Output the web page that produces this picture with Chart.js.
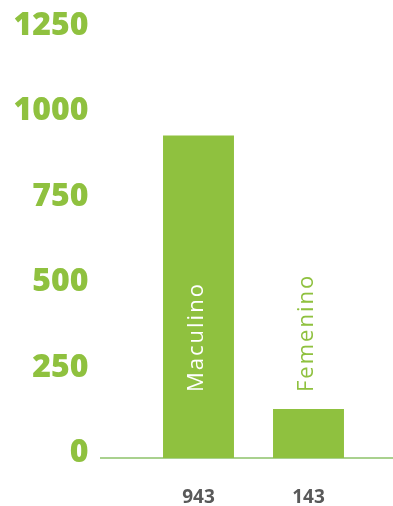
<!DOCTYPE html>
<html>
<head>
<meta charset="utf-8">
<script src="https://cdn.jsdelivr.net/npm/chart.js@4/dist/chart.umd.min.js"></script>
<style>
  html, body { margin: 0; padding: 0; background: #fff; }
  canvas { display: block; }
</style>
</head>
<body>
<canvas id="grafico" width="393" height="506"></canvas>
<script>
// dados
var categorias = ['943', '143'];
var nomes = ['Maculino', 'Femenino'];
var valores = [943, 143];
var ticksY = [0, 250, 500, 750, 1000, 1250];

var verde = '#8fc13f';
var verdeLinha = '#a9d18e';

// linha do eixo que atravessa toda a largura
var linhaBase = {
    id: 'linhaBase',
    beforeDatasetsDraw: function(chart) {
        var ctx = chart.ctx;
        var y = chart.scales.y.getPixelForValue(0);
        ctx.save();
        ctx.strokeStyle = verdeLinha;
        ctx.lineWidth = 2;
        ctx.beginPath();
        ctx.moveTo(100, y);
        ctx.lineTo(chart.width, y);
        ctx.stroke();
        ctx.restore();
    }
};

// nomes rodados nas barras
var nomesBarras = {
    id: 'nomesBarras',
    afterDatasetsDraw: function(chart) {
        var ctx = chart.ctx;
        var meta = chart.getDatasetMeta(0);
        var baseY = chart.chartArea.bottom - 66;
        ctx.save();
        ctx.font = '22px "Open Sans"';
        ctx.letterSpacing = '2px';
        ctx.textAlign = 'left';
        ctx.textBaseline = 'middle';
        meta.data.forEach(function(bar, i) {
            ctx.save();
            ctx.translate(bar.x - 2, baseY);
            ctx.rotate(-Math.PI / 2);
            ctx.fillStyle = i == 0 ? '#ffffff' : verde;
            ctx.fillText(nomes[i], 0, 0);
            ctx.restore();
        });
        ctx.restore();
    }
};

new Chart(document.getElementById('grafico'), {
    type: 'bar',
    data: {
        labels: categorias,
        datasets: [{
            data: valores,
            backgroundColor: verde,
            borderWidth: 0,
            categoryPercentage: 1,
            barPercentage: 0.645
        }]
    },
    options: {
        responsive: false,
        animation: false,
        layout: { padding: { top: 30.5, right: 29.5, left: 0, bottom: 0 } },
        plugins: {
            legend: { display: false },
            tooltip: { enabled: false }
        },
        scales: {
            x: {
                grid: { display: false },
                border: { display: false },
                afterFit: function(axis) { axis.height = 48; },
                ticks: {
                    color: '#595959',
                    padding: 20,
                    font: { family: 'Open Sans', size: 19, weight: 'bold' }
                }
            },
            y: {
                min: 0,
                max: 1250,
                afterBuildTicks: function(axis) {
                    axis.ticks = ticksY.map(function(v) { return { value: v }; });
                },
                afterFit: function(axis) {
                    axis.width = 143.5;
                    axis.paddingTop = 0;
                    axis.paddingBottom = 0;
                },
                grid: { display: false },
                border: { display: false },
                ticks: {
                    color: verde,
                    padding: 47,
                    labelOffset: -5,
                    callback: function(v) { return String(v); },
                    font: { family: 'Open Sans', size: 32, weight: '800' }
                }
            }
        }
    },
    plugins: [linhaBase, nomesBarras]
});
</script>
</body>
</html>
